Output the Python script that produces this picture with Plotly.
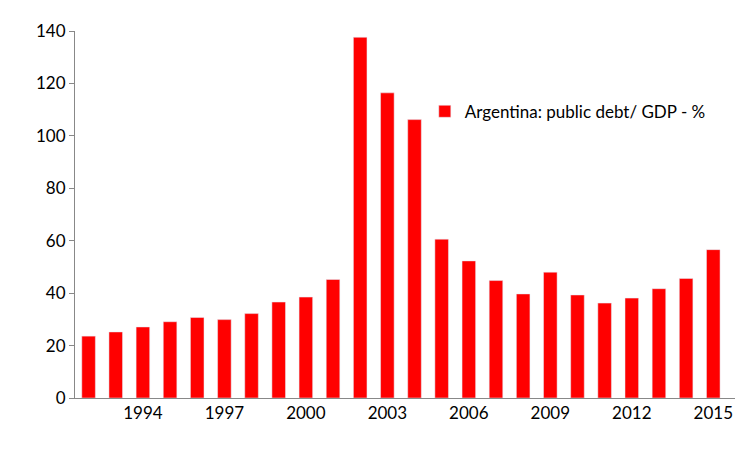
import plotly.graph_objects as go

years = list(range(1992, 2016))
debt = [23.6, 25.2, 27.1, 29.1, 30.7, 29.9, 32.2, 36.6, 38.5, 45.2, 137.6, 116.4,
        106.2, 60.6, 52.3, 44.8, 39.7, 48.0, 39.3, 36.2, 38.1, 41.7, 45.6, 56.6]
tick_years = [1994, 1997, 2000, 2003, 2006, 2009, 2012, 2015]

fig = go.Figure(go.Bar(
    x=years, y=debt, name="Argentina: public debt/ GDP - %",
    marker_color="#ff0000", width=0.5,
))

fig.update_layout(
    width=750, height=453,
    margin=dict(l=67, r=23, t=18, b=63),
    plot_bgcolor="white", paper_bgcolor="white",
    font=dict(family="Lato, Open Sans, sans-serif", size=17, color="black"),
    showlegend=True,
    legend=dict(x=0.53, y=0.78, xanchor="left", yanchor="middle",
                bgcolor="rgba(0,0,0,0)", font=dict(size=17)),
    bargap=0.5,
)
fig.update_xaxes(range=[1991.5, 2015.8], tickvals=tick_years, showline=True,
                 linecolor="#888", showgrid=False, ticks="", ticklen=0)
fig.update_yaxes(range=[0, 140], dtick=20, showline=True, linecolor="#888",
                 showgrid=False, ticks="outside", ticklen=5, tickcolor="#888",
                 zeroline=False)

fig.write_html("out.html")
